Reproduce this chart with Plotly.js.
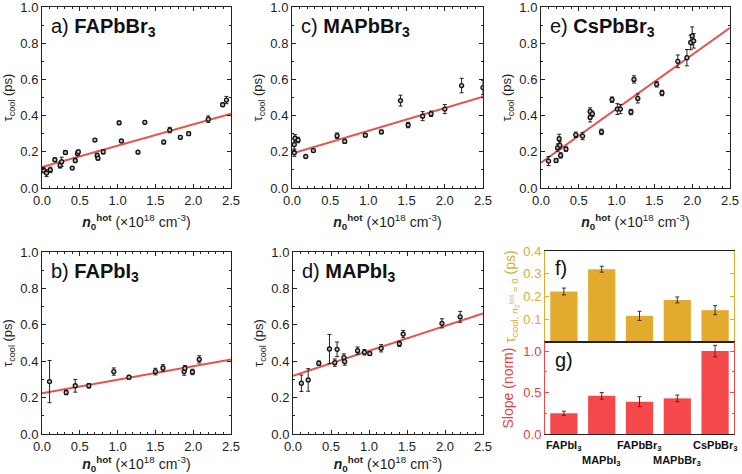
<!DOCTYPE html>
<html>
<head>
<meta charset="utf-8">
<script src="https://cdn.plot.ly/plotly-3.0.1.min.js"></script>
<style>
html,body{margin:0;padding:0;background:#fff;}
#chart{width:742px;height:474px;}
</style>
</head>
<body>
<div id="chart"></div>
<script>
// ---------- data ----------
// a) FAPbBr3
const aX = [0.02,0.06,0.11,0.17,0.24,0.26,0.31,0.40,0.44,0.47,0.48,0.70,0.73,0.74,0.81,1.02,1.05,1.27,1.36,1.61,1.69,1.83,1.94,2.20,2.39,2.44];
const aY = [0.098,0.083,0.10,0.156,0.125,0.145,0.196,0.11,0.152,0.19,0.20,0.265,0.18,0.165,0.20,0.36,0.26,0.198,0.363,0.254,0.32,0.28,0.30,0.38,0.46,0.486];
const aE = [0.015,0.02,0.015,0.01,0.015,0.025,0.01,0.005,0.012,0.012,0.01,0.008,0.012,0.01,0.012,0.01,0.008,0.005,0.008,0.01,0.015,0.01,0.01,0.018,0.01,0.02];
// c) MAPbBr3
const cX = [0.03,0.04,0.08,0.03,0.18,0.28,0.59,0.69,0.96,1.17,1.42,1.52,1.71,1.82,2.00,2.22,2.50];
const cY = [0.24,0.275,0.265,0.195,0.174,0.207,0.289,0.258,0.292,0.31,0.483,0.348,0.397,0.41,0.436,0.566,0.555];
const cE = [0.03,0.02,0.015,0.02,0.005,0.008,0.015,0.012,0.01,0.01,0.03,0.015,0.025,0.015,0.025,0.04,0.04];
// e) CsPbBr3
const eX = [0.10,0.20,0.22,0.24,0.25,0.26,0.33,0.46,0.55,0.65,0.65,0.68,0.80,0.94,1.01,1.05,1.19,1.23,1.28,1.53,1.60,1.81,1.93,1.98,2.00,2.02];
const eY = [0.149,0.152,0.223,0.272,0.236,0.18,0.215,0.294,0.287,0.39,0.423,0.41,0.31,0.488,0.436,0.436,0.42,0.60,0.495,0.573,0.525,0.70,0.72,0.804,0.84,0.813];
const eE = [0.025,0.01,0.02,0.025,0.02,0.015,0.012,0.015,0.02,0.025,0.02,0.015,0.015,0.015,0.03,0.025,0.015,0.02,0.025,0.015,0.015,0.035,0.045,0.04,0.05,0.04];
// b) FAPbI3
const bX = [0.10,0.32,0.44,0.62,0.95,1.15,1.50,1.60,1.88,1.89,1.99,2.08];
const bY = [0.288,0.228,0.265,0.265,0.343,0.312,0.343,0.363,0.343,0.361,0.341,0.41];
const bE = [0.116,0.012,0.035,0.012,0.02,0.01,0.018,0.018,0.02,0.015,0.015,0.02];
// d) MAPbI3
const dX = [0.11,0.20,0.34,0.48,0.55,0.58,0.67,0.68,0.85,0.94,1.01,1.16,1.40,1.45,1.96,2.20];
const dY = [0.279,0.297,0.389,0.467,0.392,0.465,0.42,0.398,0.458,0.449,0.442,0.471,0.496,0.549,0.608,0.644];
const dE = [0.045,0.062,0.012,0.08,0.02,0.04,0.02,0.02,0.02,0.015,0.01,0.02,0.015,0.02,0.025,0.03];
// linear fits (intercept, slope) for a, c, e, b, d
const fitIntercept = {a:0.116, c:0.19, e:0.14, b:0.224, d:0.32};
const fitSlope     = {a:0.118, c:0.126, e:0.298, b:0.074, d:0.137};
const fitRange = [0, 2.5];
// f) and g) bar charts
const materials = ['FAPbI<sub>3</sub>','MAPbI<sub>3</sub>','FAPbBr<sub>3</sub>','MAPbBr<sub>3</sub>','CsPbBr<sub>3</sub>'];
const tauZero    = [0.222,0.32,0.115,0.185,0.14];
const tauZeroErr = [0.015,0.013,0.02,0.013,0.02];
const slopeNorm    = [0.25,0.46,0.39,0.43,1.0];
const slopeNormErr = [0.025,0.04,0.06,0.04,0.07];

// ---------- layout helpers ----------
const W = 742, H = 474;
const FONT = 'Liberation Sans, Arial, sans-serif';
const GOLD = '#E2AB2D', GOLDTXT = '#DDA935', RED = '#F5484A', REDTXT = '#E8413F', FITRED = '#E9524C';
const dxm = (l, r) => [l / W, r / W];
const dym = (t, b) => [1 - b / H, 1 - t / H];

const panels = [
  {id:'', X:aX, Y:aY, E:aE, key:'a', xd:dxm(42,231), yd:dym(7,188), label:'a) <b>FAPbBr<sub>3</sub></b>'},
  {id:'2', X:cX, Y:cY, E:cE, key:'c', xd:dxm(292,483), yd:dym(7,188), label:'c) <b>MAPbBr<sub>3</sub></b>'},
  {id:'3', X:eX, Y:eY, E:eE, key:'e', xd:dxm(541,730), yd:dym(7,188), label:'e) <b>CsPbBr<sub>3</sub></b>'},
  {id:'4', X:bX, Y:bY, E:bE, key:'b', xd:dxm(42,231), yd:dym(252,434), label:'b) <b>FAPbI<sub>3</sub></b>'},
  {id:'5', X:dX, Y:dY, E:dE, key:'d', xd:dxm(293,483), yd:dym(252,434), label:'d) <b>MAPbI<sub>3</sub></b>'}
];

const traces = [];
const layout = {
  width: W, height: H,
  margin: {l:0, r:0, t:0, b:0},
  paper_bgcolor: '#fff', plot_bgcolor: '#fff',
  showlegend: false,
  font: {family: FONT, size: 13, color: '#222'},
  annotations: []
};

const xTitle = '<b><i>n</i></b><sub><b>0</b></sub><sup><b>hot</b></sup> (\u00d710<sup>18</sup> cm<sup>-3</sup>)';
const yTitle = '\u03c4<sub>cool</sub> (ps)';

panels.forEach(p => {
  const xa = 'x' + p.id, ya = 'y' + p.id;
  traces.push({
    type:'scatter', mode:'lines', xaxis:xa, yaxis:ya,
    x: fitRange, y: fitRange.map(v => fitIntercept[p.key] + fitSlope[p.key] * v),
    line:{color:FITRED, width:2}, hoverinfo:'skip'
  });
  traces.push({
    type:'scatter', mode:'markers', xaxis:xa, yaxis:ya,
    x:p.X, y:p.Y,
    error_y:{type:'data', array:p.E, visible:true, color:'#222', thickness:1, width:2},
    marker:{symbol:'circle', size:4, color:'#bdbdbd', line:{color:'#111', width:1.3}}
  });
  layout['xaxis' + p.id] = {
    domain:p.xd, anchor:ya, range:[0,2.5], dtick:0.5, tickformat:'.1f',
    showline:true, linecolor:'#222', linewidth:1, mirror:'ticks',
    ticks:'inside', ticklen:4, tickcolor:'#222',
    minor:{dtick:0.1, ticks:'inside', ticklen:2, tickcolor:'#222'},
    showgrid:false, zeroline:false, ticklabeloverflow:'allow',
    tickfont:{size:13, color:'#222', family:FONT},
    title:{text:xTitle, font:{size:14, color:'#222', family:FONT}, standoff:10}
  };
  layout['yaxis' + p.id] = {
    domain:p.yd, anchor:xa, range:[0,1], dtick:0.2, tickformat:'.1f',
    showline:true, linecolor:'#222', linewidth:1, mirror:'ticks',
    ticks:'inside', ticklen:4, tickcolor:'#222',
    minor:{dtick:0.1, ticks:'inside', ticklen:2, tickcolor:'#222'},
    showgrid:false, zeroline:false, ticklabeloverflow:'allow',
    tickfont:{size:13, color:'#222', family:FONT},
    title:{text:yTitle, font:{size:13, color:'#222', family:FONT}, standoff:4}
  };
  layout.annotations.push({
    xref:'paper', yref:'paper', x:p.xd[0] + 7 / W, y:p.yd[1] - 6 / H,
    xanchor:'left', yanchor:'top', showarrow:false,
    text:p.label, font:{size:20, color:'#111', family:FONT}
  });
});

// f) bars
traces.push({
  type:'bar', xaxis:'x6', yaxis:'y6', x:materials, y:tauZero,
  marker:{color:GOLD},
  error_y:{type:'data', array:tauZeroErr, visible:true, color:'#333', thickness:1, width:2}
});
// g) bars
traces.push({
  type:'bar', xaxis:'x7', yaxis:'y7', x:materials, y:slopeNorm,
  marker:{color:RED},
  error_y:{type:'data', array:slopeNormErr, visible:true, color:'#8a1010', thickness:1, width:2}
});
layout.bargap = 0.28;

layout.xaxis6 = {
  domain:dxm(545,734), anchor:'y6', type:'category', range:[-0.5,4.5],
  showticklabels:false, ticks:'', showline:true, linecolor:'#222', linewidth:1, mirror:true,
  showgrid:false, zeroline:false
};
layout.yaxis6 = {
  domain:dym(251,342), anchor:'x6', range:[0,0.4], tickvals:[0.1,0.2,0.3,0.4], tickformat:'.1f',
  showline:true, linecolor:GOLD, linewidth:1, mirror:'ticks',
  ticks:'inside', ticklen:4, tickcolor:GOLD,
  showgrid:false, zeroline:false, ticklabeloverflow:'allow',
  tickfont:{size:13, color:GOLDTXT, family:FONT},
  title:{text:'\u03c4<sub>cool, <i>n</i><sub>0</sub><sup>hot</sup> = 0</sub> (ps)', font:{size:14, color:GOLDTXT, family:FONT}, standoff:4}
};
layout.xaxis7 = {
  domain:dxm(545,734), anchor:'y7', type:'category', range:[-0.5,4.5],
  showticklabels:false, ticks:'', showline:true, linecolor:'#222', linewidth:1, mirror:true,
  showgrid:false, zeroline:false
};
layout.yaxis7 = {
  domain:dym(342,434), anchor:'x7', range:[0,1.11], tickvals:[0,0.5,1.0], tickformat:'.1f',
  showline:true, linecolor:RED, linewidth:1, mirror:'ticks',
  ticks:'inside', ticklen:4, tickcolor:RED,
  minor:{dtick:0.25, ticks:'inside', ticklen:2, tickcolor:RED},
  showgrid:false, zeroline:false, ticklabeloverflow:'allow',
  tickfont:{size:13, color:REDTXT, family:FONT},
  title:{text:'Slope (norm)', font:{size:14, color:REDTXT, family:FONT}, standoff:6}
};

// category labels under panel g, staggered in two rows so they do not overlap
materials.forEach((m, i) => {
  layout.annotations.push({
    xref:'x7', yref:'paper', x:m, y:1 - 437 / H, xanchor:'center', yanchor:'top',
    yshift:(i % 2 === 0) ? 0 : -15, showarrow:false,
    text:'<b>' + m + '</b>', font:{size:11, color:'#111', family:FONT}
  });
});

layout.annotations.push({
  xref:'paper', yref:'paper', x:553 / W, y:1 - 255 / H, xanchor:'left', yanchor:'top',
  showarrow:false, text:'f)', font:{size:20, color:'#111', family:FONT}
});
layout.annotations.push({
  xref:'paper', yref:'paper', x:553 / W, y:1 - 347 / H, xanchor:'left', yanchor:'top',
  showarrow:false, text:'g)', font:{size:20, color:'#111', family:FONT}
});

Plotly.newPlot('chart', traces, layout, {staticPlot:true, displayModeBar:false});
</script>
</body>
</html>
